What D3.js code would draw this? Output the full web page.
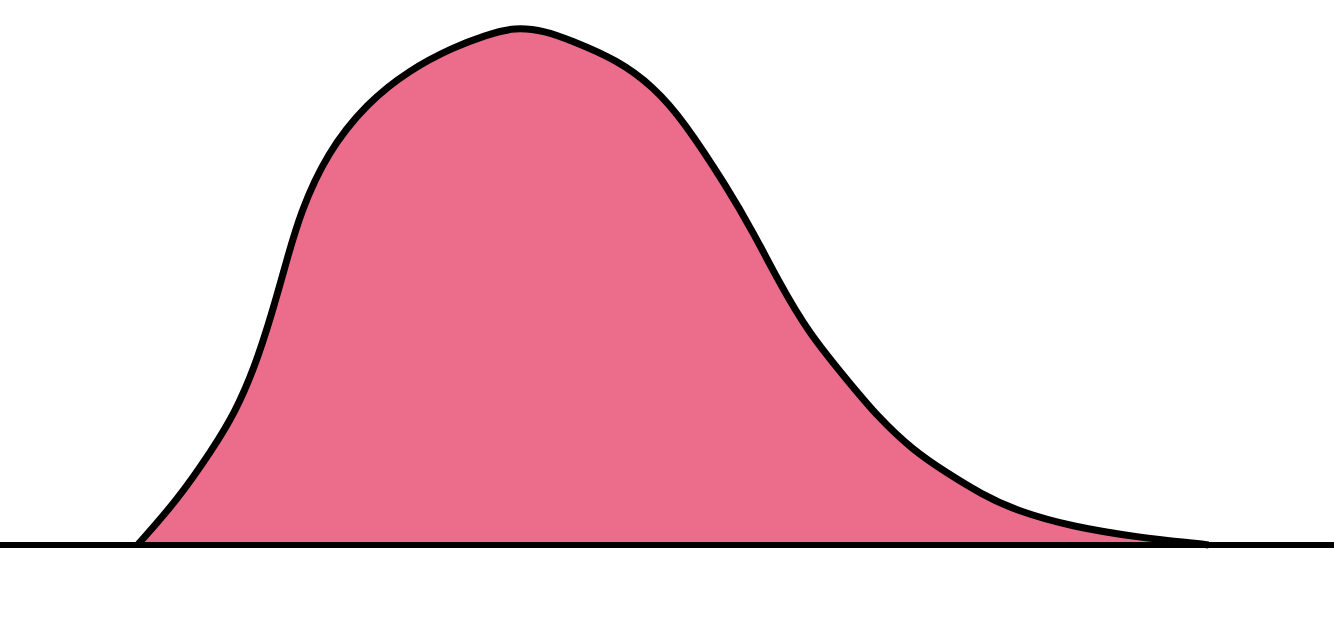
<!DOCTYPE html>
<html>
<head>
<meta charset="utf-8">
<script src="https://cdn.jsdelivr.net/npm/d3@7"></script>
<style>
  html, body { margin: 0; padding: 0; background: #fff; }
  svg { display: block; }
</style>
</head>
<body>
<svg width="1334" height="624"></svg>
<script>
// position along the axis (0-100) and density (0-100, peak ~ 100)
var xValues = [10.3, 13.3, 15.9, 17.6, 19.1, 20.4, 21.5, 22.5, 24.5, 27.5, 30.7, 34.0, 36.4, 38.6, 40.9,
    42.7, 46.3, 49.0, 51.2, 54.5, 56.5, 58.3, 60.6, 63.7, 65.8, 68.4, 71.0, 73.6, 76.2, 80.4, 85.5, 89.7, 90.6];
var density = [0, 8.7, 18.4, 25.5, 34.4, 44.9, 55.1, 64.2, 75.8, 85.5, 91.9, 96.3, 98.6, 100.2, 99.4,
    97.7, 93.8, 88.6, 82.2, 69.2, 60.3, 51.3, 41.0, 31.3, 24.8, 18.4, 13.9, 9.8, 6.6, 3.5, 1.4, 0.3, 0];

var svg = d3.select('svg');
var svgWidth = +svg.attr('width');

var baseY = 545;

var xScale = d3.scaleLinear()
    .domain([0, 100])
    .range([0, svgWidth]);

var yScale = d3.scaleLinear()
    .domain([0, 100])
    .range([baseY, 28]);

var points = xValues.map(function(x, i) {
    return {x: x, y: density[i]};
});

var area = d3.area()
    .x(d => xScale(d.x))
    .y0(yScale(0))
    .y1(d => yScale(d.y))
    .curve(d3.curveBasis);

var line = d3.line()
    .x(d => xScale(d.x))
    .y(d => yScale(d.y))
    .curve(d3.curveBasis);

svg.append('path')
    .datum(points)
    .attr('d', area)
    .attr('fill', '#ec6d8b');

svg.append('path')
    .datum(points)
    .attr('d', line)
    .attr('fill', 'none')
    .attr('stroke', '#000')
    .attr('stroke-width', 7)
    .attr('stroke-linejoin', 'round');

// baseline
svg.append('line')
    .attr('x1', 0)
    .attr('x2', svgWidth)
    .attr('y1', yScale(0))
    .attr('y2', yScale(0))
    .attr('stroke', '#000')
    .attr('stroke-width', 6);
</script>
</body>
</html>
